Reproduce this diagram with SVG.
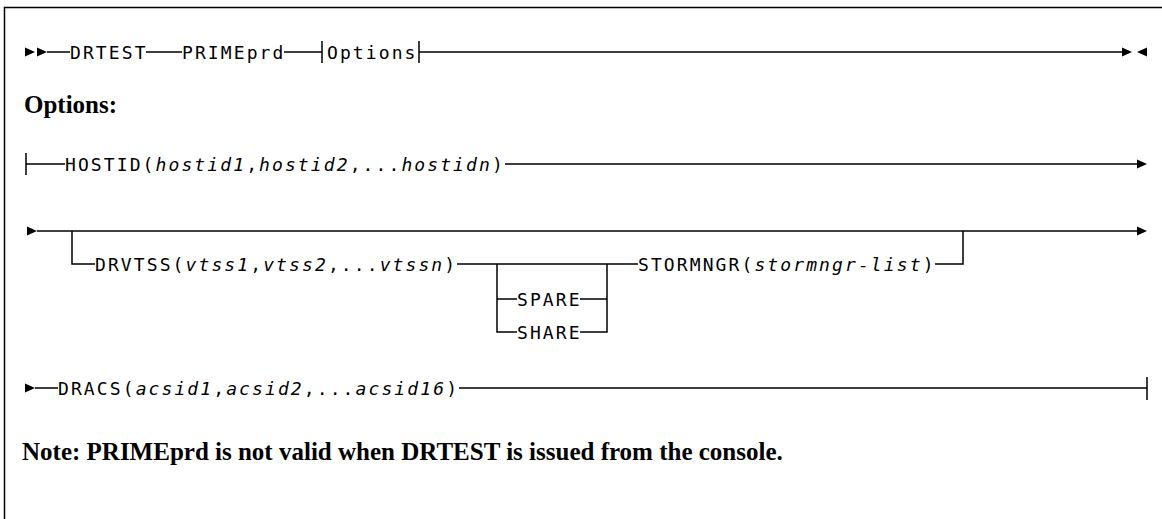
<svg xmlns="http://www.w3.org/2000/svg" width="1162" height="519" viewBox="0 0 1162 519">
<style>
.ln{fill:none;stroke:#000;stroke-width:1.5}
.t{font-family:"DejaVu Sans Mono","Liberation Mono",monospace;font-size:18px;letter-spacing:2.1px;fill:#000}
.i{font-style:italic}
.h{font-family:"Liberation Serif","Times New Roman",serif;font-weight:bold;font-size:25px;fill:#000}
.ar{fill:#000}
</style>
<rect width="1162" height="519" fill="#fff"/>
<path class="ln" d="M4.5,519 V7.5 H1162"/>
<g id="connectors">
  <polygon class="ar" points="25,47.5 35,52 25,56.5"/>
  <polygon class="ar" points="37,47.5 47,52 37,56.5"/>
  <path class="ln" d="M47,52 H70 M146,52 H182 M284,52 H322 M322,41 V63 M419,41 V63 M419,52 H1123"/>
  <polygon class="ar" points="1122,47.5 1132,52 1122,56.5"/>
  <polygon class="ar" points="1147,47.5 1137,52 1147,56.5"/>
  <path class="ln" d="M26,153 V175 M26,164 H65 M505,164 H1138"/>
  <polygon class="ar" points="1137,159.5 1147,164 1137,168.5"/>
  <polygon class="ar" points="27,226.5 37,231 27,235.5"/>
  <path class="ln" d="M37,231 H1138"/>
  <polygon class="ar" points="1137,226.5 1147,231 1137,235.5"/>
  <path class="ln" d="M72,231 V264 H95"/>
  <path class="ln" d="M457,264 H638"/>
  <path class="ln" d="M497,264 V332 H517 M497,299 H517 M580,299 H607 M580,332 H607 V264"/>
  <path class="ln" d="M935,264 H963 V231"/>
  <polygon class="ar" points="25,383.5 35,388 25,392.5"/>
  <path class="ln" d="M35,388 H58 M459,388 H1147 M1147,377 V400"/>
</g>
<g id="DRTEST"><text class="t" x="70" y="58.5">DRTEST</text></g>
<g id="PRIMEprd"><text class="t" x="182" y="58.5">PRIMEprd</text></g>
<g id="Options-ref"><text class="t" x="327" y="58.5">Options</text></g>
<g id="Options-title"><text class="h" x="24" y="113">Options:</text></g>
<g id="HOSTID"><text class="t" x="65" y="170.5">HOSTID(<tspan class="i">hostid1</tspan>,<tspan class="i">hostid2</tspan>,...<tspan class="i">hostidn</tspan>)</text></g>
<g id="DRVTSS"><text class="t" x="95" y="270.5">DRVTSS(<tspan class="i">vtss1</tspan>,<tspan class="i">vtss2</tspan>,...<tspan class="i">vtssn</tspan>)</text></g>
<g id="SPARE"><text class="t" x="517" y="305.5">SPARE</text></g>
<g id="SHARE"><text class="t" x="517" y="338.5">SHARE</text></g>
<g id="STORMNGR"><text class="t" x="638" y="270.5">STORMNGR(<tspan class="i">stormngr-list</tspan>)</text></g>
<g id="DRACS"><text class="t" x="58" y="394.5">DRACS(<tspan class="i">acsid1</tspan>,<tspan class="i">acsid2</tspan>,...<tspan class="i">acsid16</tspan>)</text></g>
<g id="Note"><text class="h" x="22" y="460">Note: PRIMEprd is not valid when DRTEST is issued from the console.</text></g>
</svg>
